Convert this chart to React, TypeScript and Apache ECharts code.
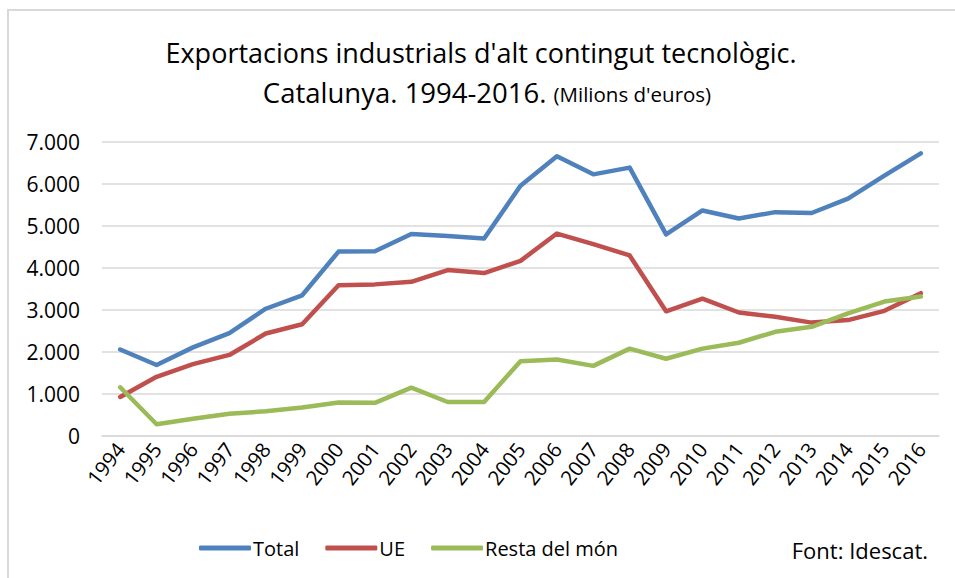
import React, { useEffect, useRef } from "react";
import * as echarts from "echarts";

const years = ["1994","1995","1996","1997","1998","1999","2000","2001","2002","2003","2004","2005","2006","2007","2008","2009","2010","2011","2012","2013","2014","2015","2016"];
const total = [2060,1690,2110,2450,3030,3350,4390,4400,4810,4760,4700,5960,6660,6230,6390,4800,5370,5180,5330,5310,5650,6200,6730];
const ue = [930,1410,1710,1930,2440,2660,3590,3610,3670,3950,3880,4170,4820,4570,4300,2970,3270,2940,2840,2700,2760,2980,3400];
const resta = [1160,280,410,530,590,680,800,790,1150,810,810,1780,1820,1670,2080,1840,2080,2220,2480,2600,2920,3200,3320];
const yTicks = [0,1000,2000,3000,4000,5000,6000,7000];

const FONT = "'Open Sans', 'Noto Sans', sans-serif";

export default function App() {
  const ref = useRef<HTMLDivElement>(null);
  useEffect(() => {
    document.body.style.margin = "0";
    const chart = echarts.init(ref.current!, null, { renderer: "svg" });
    const fmt = (v: number) => {
      const s = String(Math.round(v));
      return s.replace(/\B(?=(\d{3})+(?!\d))/g, ".");
    };
    chart.setOption({
      animation: false,
      backgroundColor: "#ffffff",
      textStyle: { fontFamily: FONT },
      legend: {
        left: 194,
        top: 533,
        itemWidth: 52,
        itemHeight: 5,
        itemGap: 26,
        icon: "roundRect",
        textStyle: { fontFamily: FONT, fontSize: 20, color: "#000000", padding: [0, 0, 0, -3] },
        data: ["Total", "UE", "Resta del món"],
      },
      grid: { left: 102, right: 16, top: 142, bottom: 142, containLabel: false },
      xAxis: {
        type: "category",
        data: years,
        boundaryGap: true,
        axisLine: { show: true, lineStyle: { color: "#d9d9d9", width: 1.5 } },
        axisTick: { show: false },
        axisLabel: {
          rotate: 52,
          margin: 9,
          fontFamily: FONT,
          fontSize: 20.5,
          color: "#000000",
          interval: 0,
        },
      },
      yAxis: {
        type: "value",
        min: yTicks[0],
        max: yTicks[yTicks.length - 1],
        interval: 1000,
        axisLine: { show: false },
        axisTick: { show: false },
        splitLine: { lineStyle: { color: "#d9d9d9", width: 1.5 } },
        axisLabel: {
          margin: 22,
          fontFamily: FONT,
          fontSize: 21,
          color: "#000000",
          formatter: fmt,
        },
      },
      series: [
        { name: "Total", type: "line", data: total, symbol: "none", color: "#4F81BD",
          lineStyle: { width: 4.5, color: "#4F81BD", cap: "round", join: "round" } },
        { name: "UE", type: "line", data: ue, symbol: "none", color: "#C0504D",
          lineStyle: { width: 4.5, color: "#C0504D", cap: "round", join: "round" } },
        { name: "Resta del món", type: "line", data: resta, symbol: "none", color: "#9BBB59",
          lineStyle: { width: 4.5, color: "#9BBB59", cap: "round", join: "round" } },
      ],
      graphic: [
        {
          type: "rect",
          shape: { x: 8, y: 10, width: 960, height: 600 },
          style: { fill: "none", stroke: "#d9d9d9", lineWidth: 2 },
          silent: true,
          z: -1,
        },
        {
          type: "text",
          x: 481,
          y: 52,
          style: {
            text: "Exportacions industrials d'alt contingut tecnològic.",
            fontFamily: FONT, fontSize: 27, fill: "#000000",
            align: "center", verticalAlign: "middle",
          },
        },
        {
          type: "text",
          x: 487,
          y: 92,
          style: {
            text: "{b|Catalunya. 1994-2016.} {s|(Milions d'euros)}",
            fontFamily: FONT, fontSize: 27, fill: "#000000",
            align: "center", verticalAlign: "middle",
            rich: {
              b: { fontFamily: FONT, fontSize: 27.5, fill: "#000000", verticalAlign: "bottom" },
              s: { fontFamily: FONT, fontSize: 20.5, fill: "#000000", verticalAlign: "bottom", padding: [0, 0, 2, 0] },
            },
          },
        },
        {
          type: "text",
          right: 27,
          top: 539,
          style: { text: "Font: Idescat.", fontFamily: FONT, fontSize: 22, fill: "#000000" },
        },
      ],
    });
    return () => chart.dispose();
  }, []);
  return <div ref={ref} style={{ width: 955, height: 578 }} />;
}
